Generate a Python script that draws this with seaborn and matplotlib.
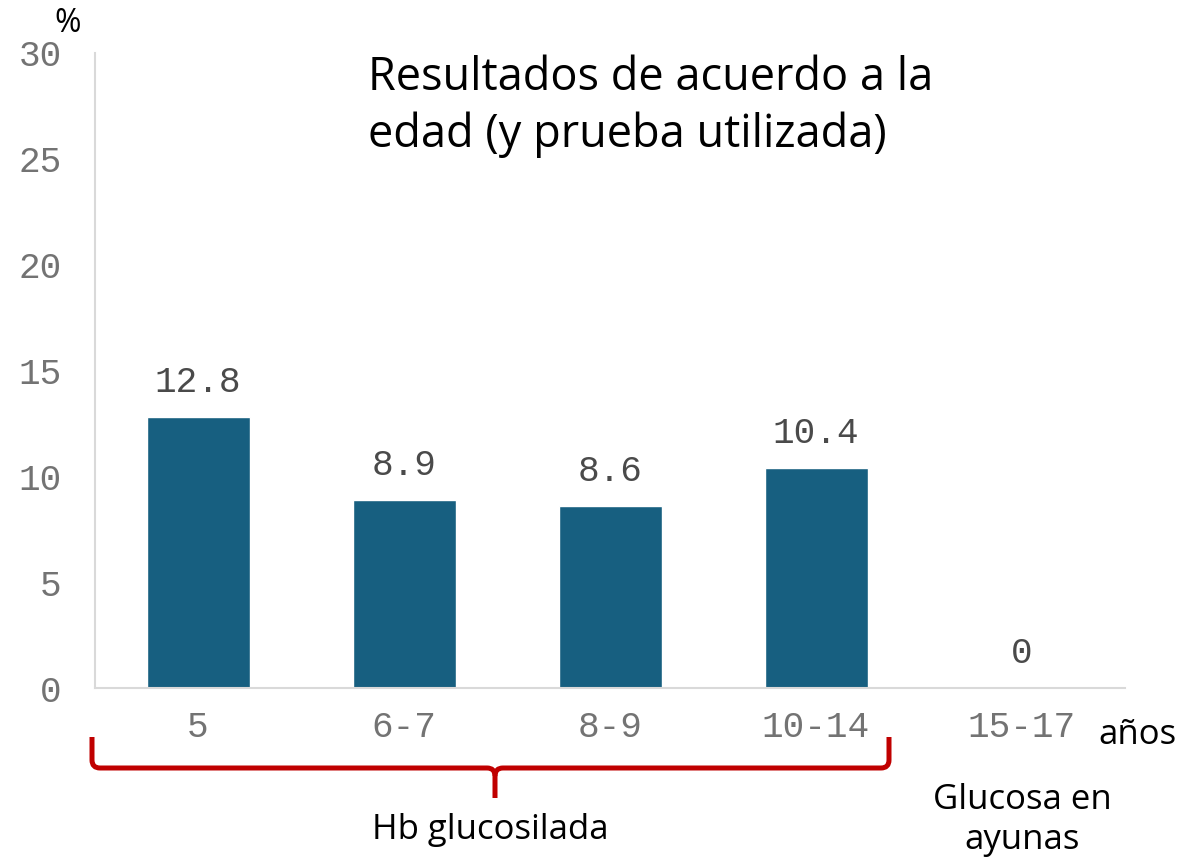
import matplotlib
matplotlib.use("Agg")
import matplotlib.pyplot as plt
import seaborn as sns
import pandas as pd
import numpy as np
from matplotlib.path import Path
from matplotlib.patches import PathPatch

categories = ["5", "6-7", "8-9", "10-14", "15-17"]
values = [12.8, 8.9, 8.6, 10.4, 0.0]
yticks = [0, 5, 10, 15, 20, 25, 30]
title_text = "Resultados de acuerdo a la\nedad (y prueba utilizada)"

sns.set_theme(style="white")
plt.rcParams["font.family"] = ["Open Sans", "DejaVu Sans"]

W, H = 1201, 863
fig = plt.figure(figsize=(W / 100, H / 100), dpi=100)
ax = fig.add_axes([95 / W, 1 - 688 / H, 1030 / W, 635 / H])

df = pd.DataFrame({"edad": categories, "pct": values})
sns.barplot(data=df, x="edad", y="pct", color="#175f80", saturation=1,
            width=0.5, ax=ax)

ax.set_xlim(-0.5, 4.5)
ax.set_ylim(0, 30)
ax.set_yticks(yticks)
ax.set_xlabel("")
ax.set_ylabel("")

mono = "Liberation Mono"
for lab in ax.get_xticklabels() + ax.get_yticklabels():
    lab.set_fontfamily(mono)
    lab.set_fontsize(26)
    lab.set_color("#737373")
ax.tick_params(axis="y", length=0, pad=24)
ax.tick_params(axis="x", length=0, pad=16)

for s in ["top", "right"]:
    ax.spines[s].set_visible(False)
for s in ["left", "bottom"]:
    ax.spines[s].set_color("#d9d9d9")
    ax.spines[s].set_linewidth(1.5)

labels = [f"{v:g}" if v != 0 else "0" for v in values]
ax.bar_label(ax.containers[0], labels=labels, padding=12, fontsize=26,
             fontfamily=mono, color="#4a4a4a")

# title
fig.text(368 / W, 1 - 55 / H, title_text, fontsize=32.5, color="black",
         ha="left", va="top", linespacing=1.3)
fig.text(54 / W, 1 - 40 / H, "%", fontsize=23, color="black", ha="left", va="bottom")
fig.text(1098 / W, 1 - 735 / H, "años", fontsize=25, color="black", ha="left", va="center")
fig.text(1022 / W, 1 - 820 / H, "Glucosa en\nayunas", fontsize=25, color="black",
         ha="center", va="center", linespacing=1.2)
fig.text(490 / W, 1 - 830 / H, "Hb glucosilada", fontsize=25, color="black",
         ha="center", va="center")

# bracket in figure pixel coordinates
def P(x, y):
    return (x / W, 1 - y / H)

xl, xr, xc = 92, 889, 495
ytop, yh, ybot = 737, 768, 798
r = 8
verts = [P(xl, ytop), P(xl, yh - r), P(xl, yh), P(xl + r, yh),
         P(xc - r, yh), P(xc, yh), P(xc, yh + r), P(xc, ybot)]
codes = [Path.MOVETO, Path.LINETO, Path.CURVE3, Path.CURVE3,
         Path.LINETO, Path.CURVE3, Path.CURVE3, Path.LINETO]
verts2 = [P(xr, ytop), P(xr, yh - r), P(xr, yh), P(xr - r, yh),
          P(xc + r, yh), P(xc, yh), P(xc, yh + r)]
codes2 = [Path.MOVETO, Path.LINETO, Path.CURVE3, Path.CURVE3,
          Path.LINETO, Path.CURVE3, Path.CURVE3]
for v, c in [(verts, codes), (verts2, codes2)]:
    fig.patches.append(PathPatch(Path(v, c), transform=fig.transFigure,
                                 fill=False, edgecolor="#c00000", linewidth=3.6,
                                 capstyle="butt", joinstyle="round"))

fig.savefig("out.png", dpi=100)
